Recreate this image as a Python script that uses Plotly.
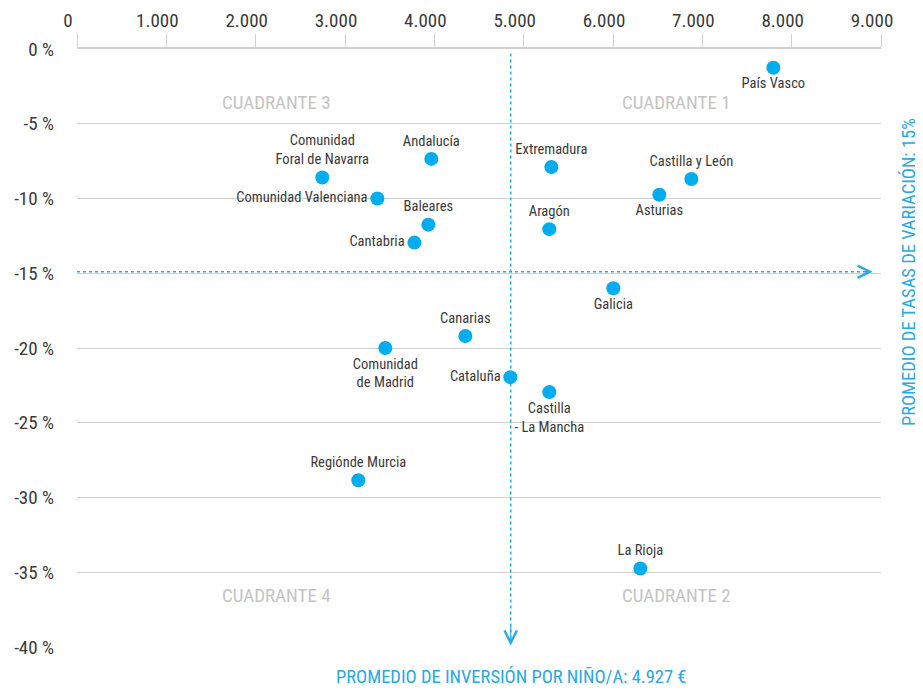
import plotly.graph_objects as go

# Comunidades: inversión por niño/a (€) y tasa de variación (%)
regions = ["País Vasco", "Comunidad<br>Foral de Navarra", "Andalucía", "Comunidad Valenciana",
           "Baleares", "Cantabria", "Extremadura", "Aragón", "Castilla y León", "Asturias",
           "Galicia", "Canarias", "Comunidad<br>de Madrid", "Cataluña", "Castilla<br>- La Mancha",
           "Regiónde Murcia", "La Rioja"]
inversion = [7795, 2746, 3966, 3362, 3933, 3777, 5310, 5287, 6877, 6519,
             6004, 4347, 3451, 4851, 5287, 3149, 6306]
variacion = [-1.25, -8.6, -7.35, -10.0, -11.75, -12.95, -7.9, -12.05, -8.7, -9.75,
             -16.0, -19.2, -20.0, -21.95, -22.95, -28.85, -34.75]
label_pos = ["bottom center", "top center", "top center", "middle left", "top center",
             "middle left", "top center", "top center", "top center", "bottom center",
             "bottom center", "top center", "bottom center", "middle left", "bottom center",
             "top center", "top center"]

x_ticks = [0, 1000, 2000, 3000, 4000, 5000, 6000, 7000, 8000, 9000]
x_ticktext = ["0", "1.000", "2.000", "3.000", "4.000", "5.000", "6.000", "7.000", "8.000", "9.000"]
y_ticks = [0, -5, -10, -15, -20, -25, -30, -35, -40]
y_ticktext = ["0 %", "-5 %", "-10 %", "-15 %", "-20 %", "-25 %", "-30 %", "-35 %", "-40 %"]

avg_x = 4855   # media de inversión (4.927 €) tal como está dibujada
avg_y = -14.9  # media de tasas de variación

FONT = "Roboto Condensed, Liberation Sans Narrow, Arial Narrow, Roboto, sans-serif"
BLUE = "#00aeef"
LINE_BLUE = "#27aae1"
GRID = "#d0d0d0"
TEXT = "#3a3a3a"

fig = go.Figure()

fig.add_trace(go.Scatter(
    x=inversion, y=variacion, mode="markers+text",
    text=regions, textposition=label_pos,
    marker=dict(size=14, color=BLUE),
    textfont=dict(family=FONT, size=14.5, color=TEXT),
    cliponaxis=False, hoverinfo="skip", showlegend=False,
))

# lineas de promedio
fig.add_shape(type="line", x0=avg_x, x1=avg_x, y0=-0.3, y1=-39.8,
              line=dict(color=LINE_BLUE, width=1.5, dash="3px,3px"))
fig.add_shape(type="line", x0=0, x1=8890, y0=avg_y, y1=avg_y,
              line=dict(color=LINE_BLUE, width=1.5, dash="3px,3px"))
fig.add_annotation(x=8905, y=avg_y, ax=8800, ay=avg_y, axref="x", ayref="y",
                   showarrow=True, arrowhead=5, arrowsize=2.2, arrowwidth=1.1,
                   arrowcolor=LINE_BLUE, text="")
fig.add_annotation(x=avg_x, y=-39.9, ax=avg_x, ay=-38.5, axref="x", ayref="y",
                   showarrow=True, arrowhead=5, arrowsize=2.2, arrowwidth=1.1,
                   arrowcolor=LINE_BLUE, text="")

fig.add_annotation(x=avg_x, y=-0.051, xref="x", yref="paper", xanchor="center", yanchor="middle",
                   text="PROMEDIO DE INVERSIÓN POR NIÑO/A: 4.927 €", showarrow=False,
                   font=dict(family=FONT, size=18.5, color=LINE_BLUE))
fig.add_annotation(x=1.034, y=avg_y, xref="paper", yref="y", xanchor="center", yanchor="middle",
                   textangle=-90,
                   text="PROMEDIO DE TASAS DE VARIACIÓN: 15%", showarrow=False,
                   font=dict(family=FONT, size=18.5, color=LINE_BLUE))

quad_font = dict(family=FONT, size=19, color="#c4c4c4")
for qx, qy, qt in [(2231, -3.6, "CUADRANTE 3"), (6711, -3.6, "CUADRANTE 1"),
                   (2231, -36.55, "CUADRANTE 4"), (6711, -36.55, "CUADRANTE 2")]:
    fig.add_annotation(x=qx, y=qy, text=qt, showarrow=False, font=quad_font)

fig.update_xaxes(
    side="top", range=[0, 9000], tickvals=x_ticks, ticktext=x_ticktext,
    showgrid=False, zeroline=False, showline=True, linecolor=GRID, linewidth=1.5,
    ticks="outside", ticklen=13, tickcolor=GRID, tickwidth=1, ticklabelshift=-9,
    tickfont=dict(family=FONT, size=19, color=TEXT), automargin=False,
)
fig.update_yaxes(
    range=[-40, 0], tickvals=y_ticks, ticktext=y_ticktext,
    showgrid=True, gridcolor=GRID, gridwidth=1, zeroline=False, showline=False,
    ticks="", ticklabelstandoff=22,
    tickfont=dict(family=FONT, size=19, color=TEXT), automargin=False,
)

# la página añade 8px de margen al body
fig.update_layout(
    width=915, height=683,
    margin=dict(l=69, r=42, t=41, b=44),
    plot_bgcolor="white", paper_bgcolor="white",
    font=dict(family=FONT),
)

fig.write_html("out.html")
